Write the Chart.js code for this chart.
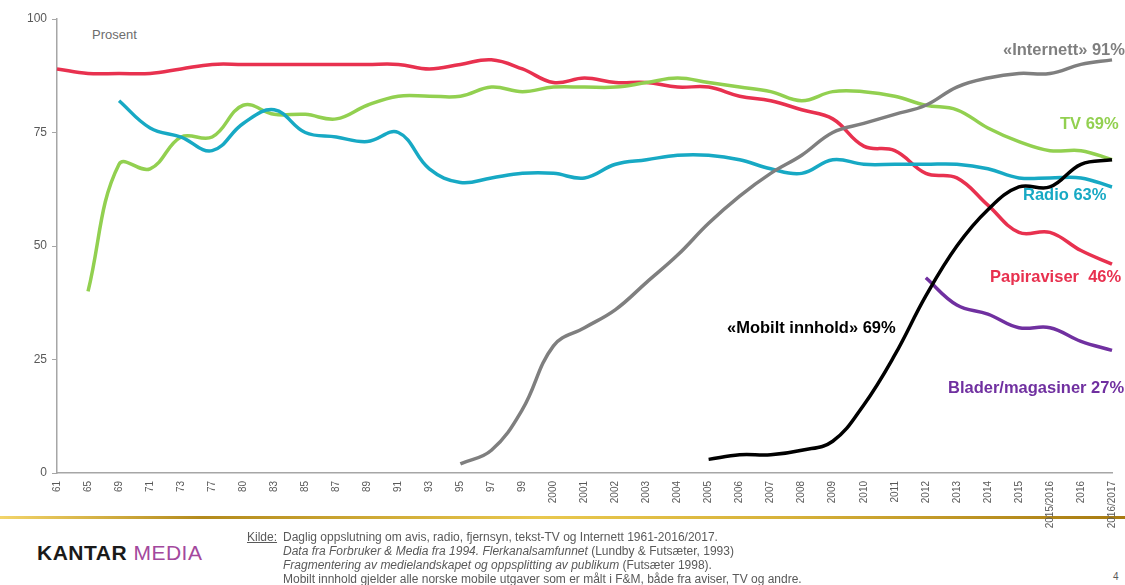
<!DOCTYPE html>
<html>
<head>
<meta charset="utf-8">
<script src="https://cdn.jsdelivr.net/npm/chart.js@4.4.6/dist/chart.umd.min.js"></script>
<style>
  html, body { margin: 0; padding: 0; background: #fff; }
  body { width: 1125px; height: 585px; position: relative; overflow: hidden; font-family: "Liberation Sans", Arial, sans-serif; }
  #wrap { position: absolute; left: 0; top: 0; width: 1132px; height: 585px; z-index: 2; }
  .lbl { position: absolute; font-weight: bold; font-size: 16.5px; white-space: nowrap; line-height: 18px; z-index: 3; }
  #prosent { position: absolute; left: 92px; top: 27px; font-size: 13px; color: #6d6d6d; }
  #gold { position: absolute; left: 0; top: 516px; width: 1125px; height: 3px; z-index: 1;
    background: linear-gradient(to right, #f3d56a 0%, #b38a1c 18%, #e9c84e 48%, #d7b23a 70%, #a77a10 100%); }
  #logo { position: absolute; left: 37px; top: 541px; font-size: 21px; font-weight: bold; letter-spacing: 0.5px; color: #1a1a1a; }
  #logo span { color: #a3489d; font-weight: normal; }
  #src { position: absolute; left: 247px; top: 530px; font-family: "Liberation Sans Narrow", "Liberation Sans", Arial, sans-serif; font-size: 12px; line-height: 14px; color: #595959; z-index: 3; }
  #src .k { position: absolute; left: 0; top: 0; text-decoration: underline; }
  #src .t { margin-left: 36px; white-space: nowrap; }
  #pg { position: absolute; left: 1113px; top: 571px; font-size: 10px; color: #595959; }
</style>
</head>
<body>
<div id="gold"></div>
<div id="wrap"><canvas id="c"></canvas></div>
<div id="prosent">Prosent</div>
<div class="lbl" style="left:1003px; top:40px; color:#7f7f7f;">«Internett» 91%</div>
<div class="lbl" style="left:1060px; top:114px; color:#92d050;">TV 69%</div>
<div class="lbl" style="left:1023px; top:185px; color:#17a9c4;">Radio 63%</div>
<div class="lbl" style="left:990px; top:267px; color:#e8314f;">Papiraviser&nbsp; 46%</div>
<div class="lbl" style="left:727px; top:318px; color:#000;">«Mobilt innhold» 69%</div>
<div class="lbl" style="left:948px; top:378px; color:#7030a0;">Blader/magasiner 27%</div>
<div id="logo">KANTAR <span>MEDIA</span></div>
<div id="src">
  <div class="k">Kilde:</div>
  <div class="t">Daglig oppslutning om avis, radio, fjernsyn, tekst-TV og Internett 1961-2016/2017.</div>
  <div class="t"><i>Data fra Forbruker &amp; Media fra 1994. Flerkanalsamfunnet</i> (Lundby &amp; Futsæter, 1993)</div>
  <div class="t"><i>Fragmentering av medielandskapet og oppsplitting av publikum</i> (Futsæter 1998).</div>
  <div class="t">Mobilt innhold gjelder alle norske mobile utgaver som er målt i F&amp;M, både fra aviser, TV og andre.</div>
</div>
<div id="pg">4</div>
<script>
// ---------------------------------------------------------------------------
// Daglig oppslutning om medier 1961-2016/2017 (prosent)
// ---------------------------------------------------------------------------
const years = ['61', '65', '69', '71', '73', '77', '80', '83', '85', '87', '89', '91', '93', '95', '97', '99',
  '2000', '2001', '2002', '2003', '2004', '2005', '2006', '2007', '2008', '2009', '2010', '2011', '2012',
  '2013', '2014', '2015', '2015/2016', '2016', '2016/2017']

const papiraviser = [89, 88, 88, 88, 89, 90, 90, 90, 90, 90, 90, 90, 89, 90, 91, 89,
  86, 87, 86, 86, 85, 85, 83, 82, 80, 78, 72, 71, 66, 65, 59, 53, 53, 49, 46]

const tv = [null, 40, 68, 67, 74, 74, 81, 79, 79, 78, 81, 83, 83, 83, 85, 84,
  85, 85, 85, 86, 87, 86, 85, 84, 82, 84, 84, 83, 81, 80, 76, 73, 71, 71, 69]

const radio = [null, null, 82, 76, 74, 71, 77, 80, 75, 74, 73, 75, 67, 64, 65, 66,
  66, 65, 68, 69, 70, 70, 69, 67, 66, 69, 68, 68, 68, 68, 67, 65, 65, 65, 63]

const internett = [null, null, null, null, null, null, null, null, null, null, null, null, null, 2, 5, 14,
  28, 32, 36, 42, 48, 55, 61, 66, 70, 75, 77, 79, 81, 85, 87, 88, 88, 90, 91]

const mobilt = [null, null, null, null, null, null, null, null, null, null, null, null, null, null, null, null,
  null, null, null, null, null, 3, 4, 4, 5, 7, 15, 26, 39, 50, 58, 63, 63, 68, 69]

const blader = [null, null, null, null, null, null, null, null, null, null, null, null, null, null, null, null,
  null, null, null, null, null, null, null, null, null, null, null, null, 43, 37, 35, 32, 32, 29, 27]

const yTicks = [0, 25, 50, 75, 100]

const axisGrey = '#a6a6a6'
const tickGrey = '#595959'

function line (data, color) {
  return {
    data,
    borderColor: color,
    backgroundColor: color,
    borderWidth: 3.5,
    pointRadius: 0,
    tension: 0.4,
    fill: false,
    spanGaps: false,
    borderCapStyle: 'butt'
  }
}

new Chart(document.getElementById('c'), {
  type: 'line',
  data: {
    labels: years,
    datasets: [
      line(mobilt, '#000000'),
      line(internett, '#7f7f7f'),
      line(blader, '#7030a0'),
      line(radio, '#17a9c4'),
      line(tv, '#92d050'),
      line(papiraviser, '#e8314f')
    ]
  },
  options: {
    responsive: true,
    maintainAspectRatio: false,
    animation: false,
    layout: { padding: { top: 19, right: 0, left: 0, bottom: 0 } },
    plugins: { legend: { display: false }, tooltip: { enabled: false } },
    scales: {
      x: {
        offset: false,
        grid: { display: false, drawTicks: false },
        border: { display: true, color: axisGrey, width: 1.5 },
        ticks: {
          autoSkip: false,
          minRotation: 90,
          maxRotation: 90,
          padding: 8,
          color: tickGrey,
          font: { family: 'Liberation Sans', size: 10 }
        },
        afterFit: s => { s.height = 112 }
      },
      y: {
        min: 0,
        max: 100,
        afterBuildTicks: s => { s.ticks = yTicks.map(v => ({ value: v })) },
        grid: { display: true, drawOnChartArea: false, drawTicks: true, tickLength: 5, color: axisGrey, lineWidth: 1 },
        border: { display: true, color: axisGrey, width: 1.5 },
        ticks: {
          padding: 5,
          color: tickGrey,
          font: { family: 'Liberation Sans', size: 12 }
        },
        afterFit: s => { s.width = 57 }
      }
    }
  }
})
</script>
</body>
</html>
